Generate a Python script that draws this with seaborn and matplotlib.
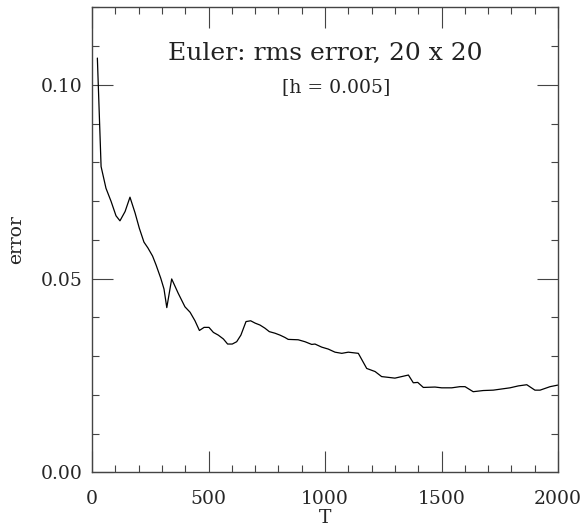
import numpy as np
import pandas as pd
import matplotlib
matplotlib.use("Agg")
import matplotlib.pyplot as plt
import seaborn as sns
from matplotlib.ticker import MultipleLocator

# ---- data ----
T = [23, 39, 60, 82, 103, 120, 142, 163, 185, 203, 223, 240, 260, 275, 295,
     309, 321, 342, 370, 399, 421, 442, 461, 481, 502, 521, 542, 564, 582,
     602, 621, 639, 661, 681, 700, 721, 742, 761, 785, 807, 828, 842, 885,
     914, 943, 957, 986, 1014, 1043, 1072, 1100, 1143, 1179, 1215, 1243,
     1272, 1300, 1329, 1358, 1379, 1398, 1422, 1472, 1501, 1544, 1579, 1601,
     1636, 1679, 1722, 1758, 1794, 1830, 1866, 1901, 1923, 1966, 1999]
error = [0.1069, 0.0789, 0.0733, 0.0699, 0.0662, 0.0649, 0.0673, 0.0710,
         0.0669, 0.0630, 0.0594, 0.0579, 0.0558, 0.0535, 0.0501, 0.0473,
         0.0425, 0.0499, 0.0462, 0.0427, 0.0413, 0.0391, 0.0366, 0.0374,
         0.0374, 0.0361, 0.0354, 0.0344, 0.0331, 0.0331, 0.0337, 0.0354,
         0.0389, 0.0391, 0.0385, 0.0380, 0.0372, 0.0363, 0.0359, 0.0354,
         0.0348, 0.0343, 0.0342, 0.0337, 0.0330, 0.0331, 0.0323, 0.0318,
         0.0310, 0.0307, 0.0310, 0.0307, 0.0268, 0.0260, 0.0247, 0.0245,
         0.0243, 0.0247, 0.0251, 0.0231, 0.0232, 0.0219, 0.0220, 0.0218,
         0.0218, 0.0221, 0.0221, 0.0208, 0.0211, 0.0212, 0.0215, 0.0218,
         0.0223, 0.0226, 0.0212, 0.0212, 0.0221, 0.0225]
x_ticks = [0, 500, 1000, 1500, 2000]
y_ticks = [0.00, 0.05, 0.10]
y_tick_labels = ["0.00", "0.05", "0.10"]
title = "Euler: rms error, 20 x 20"
subtitle = "[h = 0.005]"

df = pd.DataFrame({"T": T, "error": error})

sns.set_theme(style="ticks")
plt.rcParams["font.family"] = ["DejaVu Serif"]

fig = plt.figure(figsize=(5.84, 5.32), dpi=100)
ax = fig.add_axes([92 / 584, (532 - 472.3) / 532, 466 / 584, 465 / 532])

sns.lineplot(data=df, x="T", y="error", ax=ax, color="black", linewidth=0.9)

ax.set_xlim(0, 2000)
ax.set_ylim(0, 0.12)
ax.set_xticks(x_ticks)
ax.set_xticklabels([str(v) for v in x_ticks])
ax.set_yticks(y_ticks)
ax.set_yticklabels(y_tick_labels)
ax.xaxis.set_minor_locator(MultipleLocator(100))
ax.yaxis.set_minor_locator(MultipleLocator(0.01))

edge = "#444444"
for s in ax.spines.values():
    s.set_visible(True)
    s.set_color(edge)
    s.set_linewidth(1.0)

ax.tick_params(which="both", direction="in", top=True, right=True,
               color=edge, width=0.8)
ax.tick_params(which="major", length=15)
ax.tick_params(which="minor", length=5)
ax.tick_params(axis="x", which="major", labelsize=13.5, pad=13)
ax.tick_params(axis="y", which="major", labelsize=13.5, pad=7)

ax.set_xlabel("T", fontsize=13.5)
ax.xaxis.set_label_coords(0.5, -0.11)
ax.xaxis.label.set_verticalalignment("baseline")
ax.set_ylabel("error", fontsize=13.5)
ax.yaxis.set_label_coords(-0.153, 0.5)
ax.yaxis.label.set_verticalalignment("baseline")

ax.text(0.5, 0.8867, title, transform=ax.transAxes, ha="center",
        va="baseline", fontsize=18, color="#222222")
ax.text(0.523, 0.8185, subtitle, transform=ax.transAxes, ha="center",
        va="baseline", fontsize=13.5, color="#222222")

fig.savefig("out.png", dpi=100)
